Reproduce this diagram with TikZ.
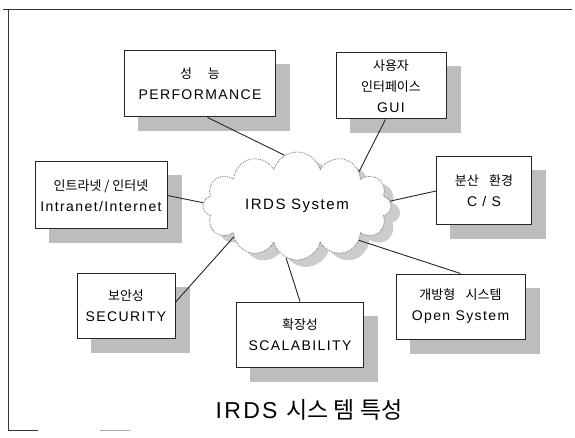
\documentclass[tikz,border=0pt]{standalone}
\usepackage{fontspec}
\setmainfont{Liberation Sans}[LetterSpace=10]
\newfontfamily\kr{Noto Sans CJK KR}
\usetikzlibrary{shapes.symbols,patterns,calc,backgrounds}
\begin{document}
\begin{tikzpicture}[x=1pt,y=-1pt,
  box/.style={draw=black!85, line width=1pt, fill=white, align=center, inner sep=0pt,
    font=\fontsize{14}{21}\selectfont},
  shade/.style={fill=black!26},
  link/.style={draw=black!85, line width=0.9pt},
  cloudshape/.style={cloud, cloud puffs=12, aspect=1.8, minimum width=188pt,
    minimum height=108pt, inner sep=0pt}]
\useasboundingbox (0,0) rectangle (575,438);
% frame
\draw[black!80, line width=0.8pt] (3,9) -- (572,9);
\draw[black!80, line width=0.8pt] (8,9) -- (8,430) -- (38,430);
\draw[black!35, line width=0.8pt] (100,430) -- (130,430);
% boxes
\node[box, minimum width=151pt, minimum height=66pt] (perf) at (200,84)
  {{\kr\fontsize{13}{21}\selectfont 성\hspace{1.2em}능}\\PERFORMANCE};
\node[box, minimum width=110pt, minimum height=66pt] (gui) at (391,86)
  {{\kr\fontsize{13}{21}\selectfont 사용자}\\{\kr\fontsize{13}{21}\selectfont 인터페이스}\\GUI};
\node[box, minimum width=132pt, minimum height=67pt] (inet) at (101,195.5)
  {{\kr\fontsize{13}{21}\selectfont 인트라넷 / 인터넷}\\Intranet/Internet};
\node[box, minimum width=95pt, minimum height=68pt] (cs) at (484,191)
  {{\kr\fontsize{13}{21}\selectfont 분산\hspace{0.8em}환경}\\C / S};
\node[box, minimum width=98pt, minimum height=65pt] (sec) at (126,305.5)
  {{\kr\fontsize{13}{21}\selectfont 보안성}\\SECURITY};
\node[box, minimum width=127pt, minimum height=65pt] (scal) at (300,334.5)
  {{\kr\fontsize{13}{21}\selectfont 확장성}\\SCALABILITY};
\node[box, minimum width=129pt, minimum height=65pt] (open) at (460.5,306.5)
  {{\kr\fontsize{13}{21}\selectfont 개방형\hspace{0.8em}시스템}\\Open System};
% cloud
\node[cloudshape, draw=black!55, densely dotted, line width=0.8pt, fill=white,
  font=\fontsize{15}{17}\selectfont] (cloud) at (297,206) {IRDS System};
% shadows
\begin{scope}[on background layer]
  \foreach \b in {perf,gui,inet,cs,sec,scal,open}{
    \fill[shade] ([shift={(14pt,-14pt)}]\b.south west) rectangle ([shift={(14pt,-14pt)}]\b.north east);
  }
  \node[cloudshape, fill=black!20] (cloudshadow) at ($(cloud.center)+(9pt,-7pt)$) {};
\end{scope}
% connectors
\draw[link] ($(perf.south west)!0.55!(perf.south east)$) -- (cloud.104);
\draw[link] ($(gui.south west)!0.45!(gui.south east)$) -- (cloud.29);
\draw[link] (inet.east) -- (cloud.178);
\draw[link] (cs.west) -- (cloud.3);
\draw[link] ($(sec.north east)!0.45!(sec.south east)$) -- (cloud.206);
\draw[link] (scal.north) -- (cloud.258);
\draw[link] (open.north) -- (cloud.331);
% title
\node[font=\fontsize{23}{27}\selectfont] (title) at (309,410) {IRDS {\kr 시스 템 특성}};
\end{tikzpicture}
\end{document}
